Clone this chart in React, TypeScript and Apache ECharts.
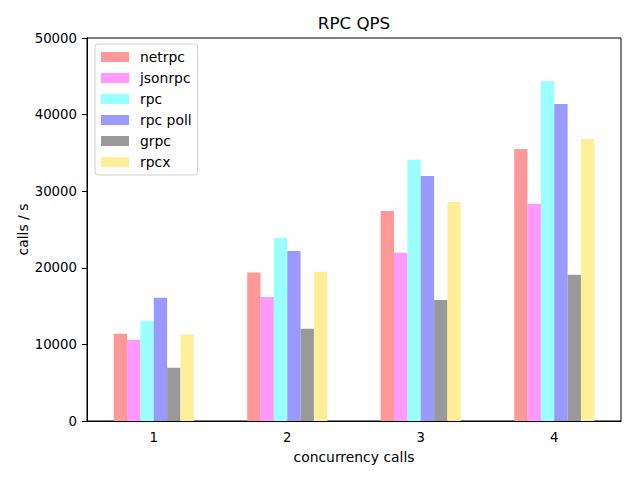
import React, { useEffect, useRef } from "react";
import * as echarts from "echarts";

const categories = ["1", "2", "3", "4"];
const seriesNames = ["netrpc", "jsonrpc", "rpc", "rpc poll", "grpc", "rpcx"];
const netrpc = [11400, 19400, 27400, 35500];
const jsonrpc = [10600, 16200, 21950, 28350];
const rpc = [13100, 23900, 34100, 44400];
const rpcPoll = [16100, 22200, 32000, 41400];
const grpc = [6950, 12050, 15800, 19100];
const rpcx = [11300, 19500, 28600, 36800];
const colors = ["#ff9999", "#ff99ff", "#99ffff", "#9999ff", "#999999", "#ffef99"];
const yTicks = { min: 0, max: 50000, interval: 10000 };

const FONT = "DejaVu Sans";

export default function App() {
  const ref = useRef<HTMLDivElement>(null);
  useEffect(() => {
    if (!ref.current) return;
    const chart = echarts.init(ref.current, undefined, { renderer: "svg" });
    const values = [netrpc, jsonrpc, rpc, rpcPoll, grpc, rpcx];
    chart.setOption({
      animation: false,
      backgroundColor: "#ffffff",
      title: {
        text: "RPC QPS",
        left: 354,
        textAlign: "center",
        top: 14,
        padding: 0,
        textStyle: { fontFamily: FONT, fontSize: 16.7, fontWeight: "normal", color: "#000" },
      },
      legend: {
        orient: "vertical",
        left: 95,
        top: 44,
        padding: [6, 6, 6, 6],
        itemWidth: 28,
        itemHeight: 10,
        itemGap: 7,
        borderColor: "#d0d0d0",
        borderWidth: 1,
        borderRadius: 3,
        icon: "rect",
        data: seriesNames,
        textStyle: { fontFamily: FONT, fontSize: 13.9, color: "#000", padding: [0, 0, 0, 6] },
      },
      grid: {
        left: 87,
        right: 19,
        top: 38,
        bottom: 59,
        show: true,
        borderColor: "#000",
        borderWidth: 1,
        backgroundColor: "transparent",
      },
      xAxis: {
        type: "category",
        data: categories,
        name: "concurrency calls",
        nameLocation: "middle",
        nameGap: 29,
        nameMoveOverlap: false,
        nameTextStyle: { fontFamily: FONT, fontSize: 13.9, color: "#000" },
        axisLine: { lineStyle: { color: "#000", width: 1 } },
        axisTick: { alignWithLabel: true, length: 5, lineStyle: { color: "#000" } },
        axisLabel: { fontFamily: FONT, fontSize: 13.3, color: "#000", margin: 10 },
        splitLine: { show: false },
      },
      yAxis: {
        type: "value",
        min: yTicks.min,
        max: yTicks.max,
        interval: yTicks.interval,
        name: "calls / s",
        nameLocation: "middle",
        nameGap: 57,
        nameRotate: 90,
        nameMoveOverlap: false,
        nameTextStyle: { fontFamily: FONT, fontSize: 13.9, color: "#000" },
        axisLine: { show: true, lineStyle: { color: "#000", width: 1 } },
        axisTick: { show: true, length: 5, lineStyle: { color: "#000" } },
        axisLabel: {
          fontFamily: FONT,
          fontSize: 13.3,
          color: "#000",
          margin: 10,
          formatter: (v: number) => String(v),
        },
        splitLine: { show: false },
      },
      series: seriesNames.map((n, i) => ({
        name: n,
        type: "bar",
        data: values[i],
        barWidth: "10%",
        barGap: "0%",
        itemStyle: { color: colors[i] },
      })),
    });
    return () => chart.dispose();
  }, []);
  return (
    <div
      ref={ref}
      style={{ position: "absolute", left: 0, top: 0, width: 640, height: 480 }}
    />
  );
}
